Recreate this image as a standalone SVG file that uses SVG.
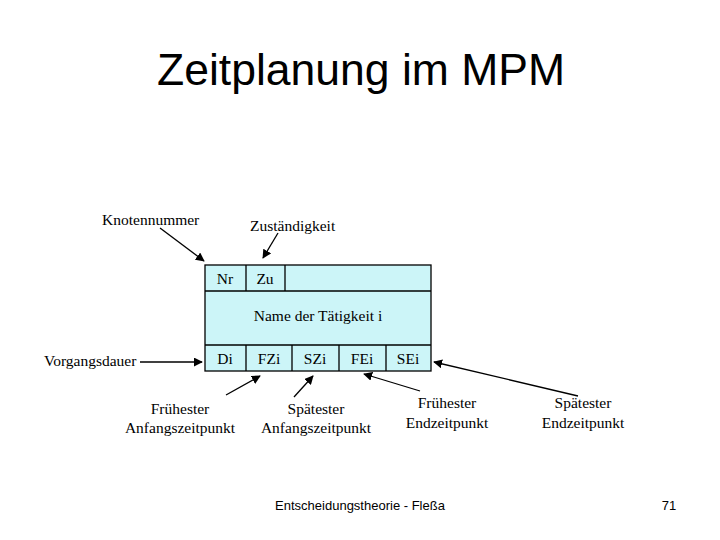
<svg xmlns="http://www.w3.org/2000/svg" width="720" height="540" viewBox="0 0 720 540">
<style>
.s{font-family:"Liberation Serif",serif;font-size:15.5px;fill:#000}
.c{text-anchor:middle}
.a{font-family:"Liberation Sans",sans-serif;fill:#000}
.b{fill:#ccf5f8;stroke:#000;stroke-width:1.3}
.l{stroke:#000;stroke-width:1.3;fill:none;marker-end:url(#m)}
</style>
<defs><marker id="m" viewBox="0 0 10 10" refX="9" refY="5" markerWidth="9" markerHeight="9" markerUnits="userSpaceOnUse" orient="auto"><path d="M0,0 L10,5 L0,10 z" fill="#000"/></marker></defs>
<rect width="720" height="540" fill="#fff"/>
<text class="a c" x="361" y="85" font-size="44.5">Zeitplanung im MPM</text>
<g id="node">
<rect class="b" x="205" y="265" width="226" height="106"/>
<line x1="205" y1="291" x2="431" y2="291" stroke="#000" stroke-width="1.3"/>
<line x1="205" y1="345" x2="431" y2="345" stroke="#000" stroke-width="1.3"/>
<path d="M246,265V291M285,265V291M246,345V371M292,345V371M339,345V371M386,345V371" stroke="#000" stroke-width="1.3"/>
<text class="s c" x="225" y="284">Nr</text>
<text class="s c" x="265" y="284">Zu</text>
<text class="s c" x="318" y="321">Name der Tätigkeit i</text>
<text class="s c" x="225" y="364">Di</text>
<text class="s c" x="269" y="364">FZi</text>
<text class="s c" x="315" y="364">SZi</text>
<text class="s c" x="362" y="364">FEi</text>
<text class="s c" x="408" y="364">SEi</text>
</g>
<g id="labels">
<text class="s" x="102" y="225">Knotennummer</text>
<text class="s" x="250" y="231">Zuständigkeit</text>
<text class="s" x="44" y="366">Vorgangsdauer</text>
<text class="s c" x="180" y="414">Frühester</text><text class="s c" x="180" y="433">Anfangszeitpunkt</text>
<text class="s c" x="316" y="414">Spätester</text><text class="s c" x="316" y="433">Anfangszeitpunkt</text>
<text class="s c" x="447" y="408">Frühester</text><text class="s c" x="447" y="428">Endzeitpunkt</text>
<text class="s c" x="583" y="408">Spätester</text><text class="s c" x="583" y="428">Endzeitpunkt</text>
</g>
<g id="connectors">
<line class="l" x1="160" y1="228" x2="204" y2="261"/>
<line class="l" x1="278" y1="233" x2="263" y2="258"/>
<line class="l" x1="140" y1="362" x2="202" y2="362"/>
<line class="l" x1="226" y1="395" x2="260" y2="376"/>
<line class="l" x1="294" y1="397" x2="313" y2="376"/>
<line class="l" x1="420" y1="391" x2="364" y2="374"/>
<line class="l" x1="578" y1="396" x2="434" y2="362"/>
</g>
<text class="a c" x="360" y="510" font-size="13">Entscheidungstheorie - Fleßa</text>
<text class="a c" x="669" y="510" font-size="13">71</text>
</svg>
